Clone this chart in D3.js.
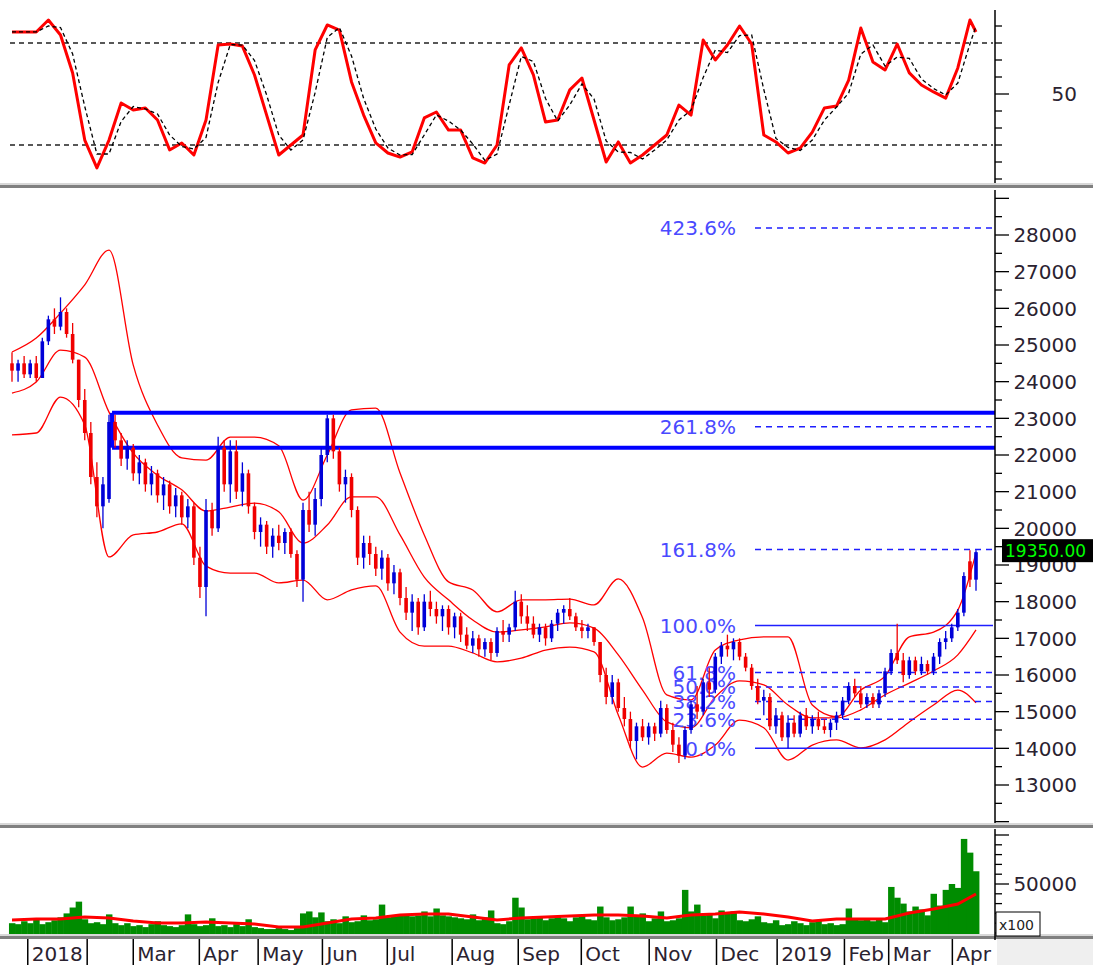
<!DOCTYPE html>
<html>
<head>
<meta charset="utf-8">
<script src="https://cdn.jsdelivr.net/npm/d3@7"></script>
<style>
  body { margin: 0; background: #fff; }
  svg { display: block; }
</style>
</head>
<body>
<svg id="chart" width="1093" height="965"></svg>
<script>
// ---------------- data (prices in hundreds, volume in thousands) ----------------
// one bar = two trading days, Dec 2017 .. Apr 2019
const barOpen = [
  245,243,245,242,245,241,251,257,255,259, 253,246,235,226,214,206,208,229,224,219,
  222,215,218,212,215,209,212,206,209,203, 206,192,184,205,200,222,212,221,210,215,
  206,199,201,195,198,196,199,193,186,205, 201,208,220,230,221,212,214,205,192,196,
  193,189,192,185,188,181,177,180,173,180, 178,176,178,173,176,171,168,170,167,169,
  166,172,171,173,180,176,174,171,173,170, 174,177,178,176,173,172,173,169,160,154,
  158,151,148,142,146,143,146,144,151,145, 141,138,145,152,150,158,156,165,168,167,
  169,165,162,157,153,154,146,149,143,147, 144,149,146,148,146,145,147,149,153,157,
  155,152,154,152,155,161,166,164,160,164, 161,163,161,165,169,170,173,177,191,186
];
const barHigh = [
  248,246,247,246,247,252,258,260,263,260, 256,246,238,229,218,214,231,231,226,224,
  223,220,219,217,216,214,213,211,210,208, 207,195,208,207,225,224,224,224,218,216,
  207,203,202,200,201,200,200,194,207,210, 211,222,231,231,222,216,215,206,198,198,
  195,194,193,190,189,184,182,181,182,183, 180,179,179,177,177,173,172,171,170,170,
  173,175,174,183,182,179,176,174,174,175, 178,179,181,177,175,174,173,169,162,160,
  159,154,150,147,148,147,147,153,152,147, 143,146,153,157,159,162,166,169,171,170,
  170,166,163,159,156,155,151,150,149,149, 150,151,149,150,148,148,150,154,158,159,
  157,155,155,156,162,167,174,166,165,165, 165,164,166,170,172,174,178,188,194,194
];
const barLow = [
  240,240,241,241,240,241,250,253,254,252, 245,233,224,212,203,200,207,222,217,216,
  213,212,210,209,207,205,204,203,201,200, 190,181,176,198,199,210,207,208,206,204,
  197,195,193,192,194,193,192,184,180,199, 198,206,218,219,210,207,203,190,189,190,
  187,186,183,182,179,175,172,171,172,176, 174,172,171,170,169,167,166,165,165,164,
  165,169,169,172,174,172,170,169,168,169, 172,174,175,172,170,170,168,158,152,152,
  150,146,140,137,142,141,142,143,144,139, 136,137,144,148,149,154,155,163,165,164,
  164,161,156,152,149,145,144,142,140,143, 143,145,144,145,144,143,145,148,152,154,
  151,151,151,151,154,160,163,158,159,160, 160,160,160,163,167,169,172,176,184,183
];
const barClose = [
  243,245,242,245,241,251,257,255,259,253, 246,235,226,214,206,212,229,224,219,222,
  215,218,212,215,209,212,206,209,203,206, 192,184,205,200,222,212,221,210,215,206,
  199,201,195,198,196,199,193,186,205,201, 208,220,230,221,212,214,205,192,196,193,
  189,192,185,188,181,177,180,173,180,178, 176,178,173,176,171,168,170,167,169,166,
  172,171,173,180,176,174,171,173,170,174, 177,178,176,173,172,173,169,160,154,158,
  151,148,142,146,143,146,144,151,145,141, 138,145,152,150,158,156,165,168,167,169,
  165,162,157,153,154,146,149,143,147,144, 149,146,148,146,145,147,149,153,157,155,
  152,154,152,155,161,166,164,160,164,161, 163,161,165,169,170,173,177,187,186,193.5
];
const volume = [
  10,9,12,10,15,9,11,13,16,20, 26,32,14,10,11,9,19,10,8,10,
  7,8,6,9,12,8,7,6,8,19, 9,7,8,15,7,8,6,9,7,14,
  6,5,4,4,5,4,3,5,20,22, 16,21,12,14,10,17,11,12,18,13,
  14,29,16,17,19,18,17,18,22,17, 25,18,17,16,15,14,19,13,16,23,
  10,9,12,36,26,14,15,16,13,15, 17,15,12,16,18,14,13,27,16,13,
  14,16,27,18,20,12,15,22,12,13, 15,44,22,29,18,20,15,23,21,22,
  13,12,14,17,11,10,13,8,9,12, 10,8,11,13,9,10,8,9,25,14,
  13,15,12,15,11,47,36,30,22,27, 24,18,40,28,44,50,46,96,82,63
];

// Bollinger bands, sampled every 4 bars (+ last bar)
const bandUpper = [248.1,251.9,258.7,266.4,275.9,244.5,228.2,219.2,218.6,224.9,
  224.9,222.5,207.7,220,232.3,232.8,215.1,198.2,185.4,183.2,
  177.2,180.5,180.5,180.7,179.1,186.2,175.6,154.6,153.2,166.8,
  169.6,170.4,170.4,151.8,148.6,155.9,159.7,170.4,171.7,177.7,193.3];
const bandMid = [236.9,239.9,248.6,246.7,231.7,220.5,214.5,210.5,204.7,205.8,
  206.9,204.5,196.0,200.9,208.6,208.6,198.2,186.7,180.5,175.0,
  171.7,172.3,173.1,174.2,172.8,165.5,155.9,147.2,145.6,154.0,
  158.4,157.3,151.8,148.3,148.3,150.5,154.6,157.8,161.1,165.5,172.3];
const bandLower = [225.5,226.0,235.8,228.2,192.2,198.2,199.0,201.2,189.7,187.8,
  187.8,185.1,185.9,180.5,183.2,184.3,171.7,167.9,167.9,166.0,
  163.6,164.6,166.8,167.6,166.3,149.1,134.9,138.7,137.6,140.9,
  147.7,145.6,136.8,140.9,142.3,140.1,142.3,147.2,151.8,155.9,152.4];
// volume moving average, same sampling
const volumeMA = [13.3,14.3,14.3,16.3,15.3,12.2,10.2,10.2,11.2,10.2,
  9.2,6.1,6.1,10.2,14.3,15.3,18.4,19.4,19.4,16.3,
  13.3,15.3,16.3,17.3,18.4,18.4,17.3,15.3,18.4,19.4,
  21.4,19.4,16.3,12.2,14.3,14.3,14.3,20.4,24.5,29.6,39.8];

// stochastic %K, sampled every 2 bars (+ last bar)
const stochK = [86.5,86.5,86.5,93.5,84.7,62.4,22.9,6.5,22.9,44.7,
  40.6,41.8,34.7,17.1,21.2,14.1,34.7,78.8,79.4,78.2,
  61.2,37.6,14.1,20.0,25.9,75.9,90.6,87.6,57.1,37.6,
  21.2,15.3,12.9,15.9,35.9,39.4,28.8,28.8,12.4,9.4,
  20.0,67.1,77.1,61.2,33.5,34.7,52.4,59.4,34.7,10.0,
  21.8,9.4,14.1,20.0,25.9,43.5,37.6,81.8,70.0,78.8,
  90.0,79.4,25.9,21.8,15.3,18.2,27.6,41.8,42.9,58.2,
  88.8,68.8,64.1,79.4,62.4,55.3,51.2,47.6,65.3,93.5,86.5];

// fibonacci projection
const fibLow = 14000, fibHigh = 17350;
const fibLevels = [0, 23.6, 38.2, 50, 61.8, 100, 161.8, 261.8, 423.6];
const fibSolid = [0, 100];
// resistance zone
const zoneTop = 23150, zoneBottom = 22200, zoneStartBar = 16.5;

// month separators (bar position) and labels
const monthPos = [2.6, 12.4, 20.0, 30.9, 40.6, 51.2, 61.9, 72.6, 83.5, 93.9, 105.1, 116.2, 126.2, 137.3, 144.6, 155.1];
const monthLabels = ["2018", "", "Mar", "Apr", "May", "Jun", "Jul", "Aug", "Sep", "Oct", "Nov", "Dec", "2019", "Feb", "Mar", "Apr"];

const lastPrice = 19350;

// ---------------- layout ----------------
const N = barClose.length;
const AXIS_X = 995;
const FONT = "DejaVu Sans, Verdana, sans-serif";
const UP = "#0000d8", DOWN = "#f00000";

const x = d3.scaleLinear().domain([0, N - 1]).range([12, 976]);
const step = x(1) - x(0);
const yStoch = d3.scaleLinear().domain([0, 100]).range([179, 9]);
const yPrice = d3.scaleLinear().domain([13000, 28000]).range([785, 235]);
const yVol = d3.scaleLinear().domain([0, 50000]).range([933, 884]);

const bandIdx = d3.range(0, N, 4).concat(N - 1);
const stochIdx = d3.range(0, N, 2).concat(N - 1);

const svg = d3.select("#chart");
const defs = svg.append("defs");
function clip(id, y, h) {
  defs.append("clipPath").attr("id", id)
    .append("rect").attr("x", 0).attr("y", y).attr("width", AXIS_X).attr("height", h);
}
clip("clipTop", 0, 183);
clip("clipMain", 190, 634);
clip("clipVol", 829, 105);

// panel separators
function separator(y) {
  svg.append("rect").attr("x", 0).attr("y", y).attr("width", 1093).attr("height", 2).attr("fill", "#d8d8d8");
  svg.append("rect").attr("x", 0).attr("y", y + 2).attr("width", 1093).attr("height", 3).attr("fill", "#808080");
}
separator(183);
separator(823);
separator(934);

// vertical axis with ticks
function axis(y0, y1, scale, values, isMajor) {
  svg.append("line").attr("x1", AXIS_X).attr("x2", AXIS_X).attr("y1", y0).attr("y2", y1)
    .attr("stroke", "#000").attr("stroke-width", 1.5);
  svg.append("g").selectAll("line").data(values).join("line")
    .attr("x1", AXIS_X).attr("x2", d => AXIS_X + (isMajor(d) ? 14 : 7))
    .attr("y1", d => scale(d)).attr("y2", d => scale(d))
    .attr("stroke", "#000").attr("stroke-width", 1.3);
}
function axisLabels(values, scale, fmt) {
  svg.append("g").selectAll("text").data(values).join("text")
    .attr("x", 1077).attr("y", d => scale(d)).attr("dy", "0.36em")
    .attr("text-anchor", "end").attr("font-family", FONT).attr("font-size", 20)
    .attr("fill", "#2a2230").text(fmt);
}

// ---------------- stochastic panel ----------------
const topG = svg.append("g").attr("clip-path", "url(#clipTop)");
[80, 20].forEach(v => {
  topG.append("line").attr("x1", 10).attr("x2", AXIS_X - 2)
    .attr("y1", yStoch(v)).attr("y2", yStoch(v))
    .attr("stroke", "#222").attr("stroke-width", 1.7).attr("stroke-dasharray", "5,4");
});
// %D = short moving average of %K
const stochD = stochK.map((v, k) => k === 0 ? v : (stochK[k - 1] + v) / 2);
const stochPts = stochIdx.map((i, k) => ({ i, k: stochK[k], d: stochD[k] }));
topG.append("path").datum(stochPts)
  .attr("d", d3.line().x(d => x(d.i)).y(d => yStoch(d.k)))
  .attr("fill", "none").attr("stroke", "#ff0000").attr("stroke-width", 3).attr("stroke-linejoin", "round");
topG.append("path").datum(stochPts)
  .attr("d", d3.line().x(d => x(d.i)).y(d => yStoch(d.d)))
  .attr("fill", "none").attr("stroke", "#000").attr("stroke-width", 1.3).attr("stroke-dasharray", "4,3");

axis(10, 183, yStoch, d3.range(0, 100, 10), d => d === 50);
axisLabels([50], yStoch, d => d);

// ---------------- price panel ----------------
const mainG = svg.append("g").attr("clip-path", "url(#clipMain)");
const bandLine = arr => d3.line().curve(d3.curveMonotoneX)
  .x((d, k) => x(bandIdx[k])).y(d => yPrice(d * 100))(arr);
[bandUpper, bandMid, bandLower].forEach(arr => {
  mainG.append("path").attr("d", bandLine(arr))
    .attr("fill", "none").attr("stroke", "#ff0000").attr("stroke-width", 1.3);
});

// resistance zone
[zoneTop, zoneBottom].forEach(v => {
  mainG.append("line").attr("x1", x(zoneStartBar)).attr("x2", AXIS_X)
    .attr("y1", yPrice(v)).attr("y2", yPrice(v))
    .attr("stroke", "#0000ff").attr("stroke-width", 4);
});
mainG.append("line").attr("x1", x(zoneStartBar)).attr("x2", x(zoneStartBar))
  .attr("y1", yPrice(zoneTop)).attr("y2", yPrice(zoneBottom))
  .attr("stroke", "#0000ff").attr("stroke-width", 4);

// fibonacci levels
const fib = fibLevels.map(p => ({ p, v: fibLow + (fibHigh - fibLow) * p / 100 }));
mainG.append("g").selectAll("line").data(fib).join("line")
  .attr("x1", 755).attr("x2", AXIS_X - 2)
  .attr("y1", d => yPrice(d.v)).attr("y2", d => yPrice(d.v))
  .attr("stroke", "#1f1fff").attr("stroke-width", 1.5)
  .attr("stroke-dasharray", d => fibSolid.includes(d.p) ? null : "6,5");
mainG.append("g").selectAll("text").data(fib).join("text")
  .attr("x", 736).attr("y", d => yPrice(d.v)).attr("dy", "0.36em")
  .attr("text-anchor", "end").attr("font-family", FONT).attr("font-size", 20)
  .attr("fill", "#4a4aff").text(d => d.p.toFixed(1) + "%");

// candles
const bars = d3.range(N).map(i => ({
  i, o: barOpen[i] * 100, h: barHigh[i] * 100, l: barLow[i] * 100, c: barClose[i] * 100
}));
const col = d => d.c >= d.o ? UP : DOWN;
const candle = mainG.append("g").selectAll("g").data(bars).join("g");
candle.append("line")
  .attr("x1", d => x(d.i)).attr("x2", d => x(d.i))
  .attr("y1", d => yPrice(d.h)).attr("y2", d => yPrice(d.l))
  .attr("stroke", col).attr("stroke-width", 1.3);
candle.append("rect")
  .attr("x", d => x(d.i) - 1.8).attr("width", 3.6)
  .attr("y", d => yPrice(Math.max(d.o, d.c)))
  .attr("height", d => Math.max(1.5, Math.abs(yPrice(d.o) - yPrice(d.c))))
  .attr("fill", col);

axis(190, 823, yPrice, d3.range(12000, 29500, 500), d => d % 1000 === 0);
axisLabels(d3.range(13000, 29000, 1000), yPrice, d => d);

// last price tag
const tagY = yPrice(lastPrice);
svg.append("rect").attr("x", 1002).attr("y", tagY - 13).attr("width", 91).attr("height", 23).attr("fill", "#000");
svg.append("text").attr("x", 1005).attr("y", tagY - 1.5).attr("dy", "0.36em")
  .attr("font-family", FONT).attr("font-size", 17).attr("fill", "#00ff00")
  .text(lastPrice.toFixed(2));

// ---------------- volume panel ----------------
const volG = svg.append("g").attr("clip-path", "url(#clipVol)");
volG.append("g").selectAll("rect").data(volume).join("rect")
  .attr("x", (d, i) => x(i) - step / 2).attr("width", step + 0.4)
  .attr("y", d => yVol(d * 1000)).attr("height", d => yVol(0) - yVol(d * 1000) + 2)
  .attr("fill", "#008c00");
volG.append("path")
  .attr("d", d3.line().x((d, k) => x(bandIdx[k])).y(d => yVol(d * 1000))(volumeMA))
  .attr("fill", "none").attr("stroke", "#ff0000").attr("stroke-width", 3);

axis(829, 940, yVol, d3.range(0, 110000, 10000), d => d % 50000 === 0 && d > 0);
axisLabels([50000], yVol, d => d);

svg.append("rect").attr("x", 996).attr("y", 912).attr("width", 44).attr("height", 24)
  .attr("fill", "#fff").attr("stroke", "#000").attr("stroke-width", 1);
svg.append("text").attr("x", 999).attr("y", 930)
  .attr("font-family", FONT).attr("font-size", 14).attr("fill", "#222").text("x100");

// ---------------- time axis ----------------
svg.append("rect").attr("x", AXIS_X + 2).attr("y", 939).attr("width", 1093 - AXIS_X).attr("height", 26).attr("fill", "#efefef");
svg.append("g").selectAll("line").data(monthPos).join("line")
  .attr("x1", d => x(d)).attr("x2", d => x(d)).attr("y1", 939).attr("y2", 965)
  .attr("stroke", "#000").attr("stroke-width", 1.5);
svg.append("g").selectAll("text").data(monthPos).join("text")
  .attr("x", d => x(d) + 4).attr("y", 961)
  .attr("font-family", FONT).attr("font-size", 20).attr("fill", "#2a2230")
  .text((d, i) => monthLabels[i]);
</script>
</body>
</html>
